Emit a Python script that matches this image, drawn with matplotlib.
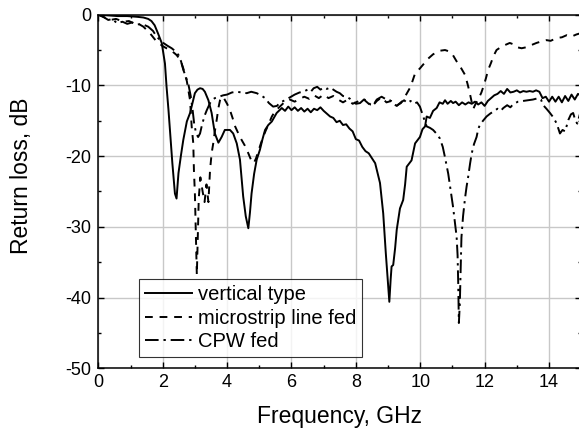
import matplotlib
matplotlib.use("Agg")
import matplotlib.pyplot as plt
from matplotlib.ticker import MultipleLocator

plt.rcParams['font.family'] = ['Liberation Sans', 'DejaVu Sans']
plt.rcParams['axes.unicode_minus'] = False

# ---- data: vertical type (solid) ----
vert_f = [0, 0.3, 0.6, 0.9, 1.2, 1.4, 1.55, 1.65, 1.75, 1.85, 1.97, 2.07, 2.12, 2.18, 2.23, 2.3, 2.38, 2.43,
          2.49, 2.57, 2.64, 2.75, 2.85, 2.93, 3.0, 3.08, 3.16, 3.24, 3.31, 3.42, 3.52, 3.62, 3.73, 3.83,
          3.93, 4.09, 4.19, 4.3, 4.4, 4.5, 4.58, 4.66, 4.71, 4.76, 4.84, 4.92, 5.02, 5.1, 5.18, 5.28,
          5.39, 5.54, 5.7, 5.8, 5.9, 6.0, 6.1, 6.2, 6.3, 6.4, 6.5, 6.6, 6.7, 6.8, 6.9, 7.0, 7.1, 7.2,
          7.3, 7.4, 7.5, 7.6, 7.7, 7.8, 7.9, 8.0, 8.1, 8.2, 8.3, 8.4, 8.5, 8.6, 8.7, 8.75, 8.85, 8.93,
          9.0, 9.04, 9.08, 9.11, 9.16, 9.22, 9.27, 9.37, 9.47, 9.53, 9.58, 9.73, 9.84, 9.99, 10.07,
          10.15, 10.2, 10.3, 10.4, 10.51, 10.6, 10.7, 10.77, 10.85, 10.95, 11.02, 11.1, 11.2, 11.3,
          11.4, 11.5, 11.6, 11.7, 11.8, 11.9, 12.0, 12.1, 12.2, 12.3, 12.4, 12.5, 12.6, 12.7, 12.8,
          12.9, 13.0, 13.1, 13.2, 13.3, 13.4, 13.5, 13.6, 13.7, 13.8, 13.9, 14.0, 14.1, 14.2, 14.3,
          14.4, 14.5, 14.6, 14.7, 14.8, 14.9, 15.0]
vert_db = [0, -0.1, -0.2, -0.2, -0.3, -0.4, -0.6, -0.9, -1.5, -2.6, -4.0, -6.9, -10.2, -13.5, -16.7,
           -21.0, -25.3, -26.0, -22.4, -19.8, -17.7, -15.1, -13.9, -12.4, -11.1, -10.6, -10.4, -10.5,
           -10.9, -12.1, -13.9, -16.8, -18.1, -17.3, -16.3, -16.3, -16.8, -18.2, -20.5, -25.7, -28.5,
           -30.2, -28.0, -25.3, -22.5, -20.5, -19.1, -17.6, -16.3, -15.6, -15.1, -13.9, -13.2, -13.6,
           -13.0, -13.5, -13.1, -13.6, -13.2, -13.7, -13.3, -13.8, -13.3, -13.5, -13.1, -13.6, -14.0,
           -14.4, -14.6, -15.2, -15.0, -15.6, -15.5, -16.1, -16.5, -17.6, -17.8, -18.7, -19.3, -19.6,
           -20.3, -21.0, -22.9, -23.8, -28.1, -33.7, -38.0, -40.6, -37.5, -35.6, -35.4, -33.0, -30.4,
           -27.4, -26.2, -24.0, -21.5, -20.6, -18.2, -17.3, -16.2, -15.8, -14.4, -14.6, -13.6, -13.2,
           -12.4, -12.6, -12.1, -12.6, -12.2, -12.5, -12.3, -12.8, -12.4, -12.7, -12.4, -12.6, -12.3,
           -12.7, -12.4, -12.9, -12.2, -11.8, -11.4, -11.2, -10.8, -11.2, -10.5, -11.0, -10.9, -10.7,
           -11.0, -10.8, -10.9, -10.8, -10.9, -10.7, -10.9, -11.8, -11.6, -12.3, -11.6, -12.3, -11.6,
           -12.4, -11.5, -12.2, -11.3, -12.0, -11.2, -11.5]

# ---- data: microstrip line fed (dashed) ----
ms_f = [0, 0.2, 0.37, 0.55, 0.78, 0.95, 1.09, 1.25, 1.4, 1.6, 1.81, 2.02, 2.12, 2.25, 2.43, 2.55, 2.64,
        2.75, 2.85, 2.9, 2.95, 2.97, 3.0, 3.03, 3.06, 3.12, 3.17, 3.24, 3.3, 3.36, 3.42, 3.47, 3.52,
        3.57, 3.62, 3.68, 3.73, 3.78, 3.83, 3.9, 4.0, 4.09, 4.17, 4.25, 4.35, 4.45, 4.55, 4.66, 4.75,
        4.83, 4.9, 4.97, 5.05, 5.12, 5.2, 5.28, 5.39, 5.5, 5.64, 5.8, 5.95, 6.1, 6.25, 6.4, 6.55, 6.7,
        6.85, 7.0, 7.15, 7.3, 7.45, 7.6, 7.75, 7.9, 8.05, 8.2, 8.35, 8.5, 8.65, 8.8, 8.95, 9.1, 9.25,
        9.4, 9.5, 9.6, 9.7, 9.84, 9.99, 10.1, 10.25, 10.4, 10.61, 10.77, 10.9, 11.0, 11.13, 11.25,
        11.39, 11.47, 11.54, 11.6, 11.65, 11.72, 11.8, 11.9, 11.96, 12.04, 12.11, 12.2, 12.27, 12.37,
        12.5, 12.63, 12.78, 12.9, 13.0, 13.15, 13.3, 13.45, 13.61, 13.75, 13.92, 14.05, 14.24, 14.4,
        14.55, 14.7, 14.85, 15.0]
ms_db = [0, -0.4, -0.75, -0.6, -1.0, -0.9, -1.2, -1.3, -1.7, -2.6, -3.8, -4.5, -4.75, -5.0, -5.7, -6.4,
         -7.6, -9.4, -12.1, -15.8, -18.2, -22.0, -25.3, -31.0, -36.8, -26.0, -23.0, -25.0, -26.5,
         -24.0, -26.5, -22.0, -19.6, -18.2, -16.5, -14.8, -13.2, -12.1, -11.6, -11.8, -12.6, -13.5,
         -14.6, -15.8, -16.8, -17.7, -18.5, -19.6, -20.6, -21.0, -20.3, -19.3, -18.2, -17.3, -16.4,
         -15.6, -14.4, -13.6, -13.0, -12.3, -12.0, -12.3, -11.9, -11.6, -11.9, -11.4, -11.8, -11.3,
         -11.8, -11.5, -12.0, -12.4, -12.0, -12.6, -12.3, -11.8, -12.4, -13.0, -12.2, -11.7, -12.4,
         -12.2, -12.9, -12.5, -11.8, -11.0, -10.2, -8.3, -7.6, -7.0, -6.2, -5.6, -5.1, -5.0, -5.2,
         -5.6, -6.6, -7.4, -8.5, -9.8, -11.1, -12.4, -13.3, -12.6, -12.0, -11.0, -10.2, -9.0, -7.8,
         -6.8, -5.9, -5.0, -4.6, -4.3, -4.0, -4.2, -4.6, -4.75, -4.6, -4.3, -4.0, -3.8, -3.6, -3.7,
         -3.3, -3.2, -2.9, -3.1, -2.8, -2.6]

# ---- data: CPW fed (dash-dot) ----
cpw_f = [0, 0.15, 0.31, 0.45, 0.57, 0.75, 0.9, 1.05, 1.2, 1.35, 1.55, 1.7, 1.81, 1.9, 2.02, 2.15, 2.28,
         2.4, 2.49, 2.57, 2.64, 2.72, 2.8, 2.87, 2.93, 2.98, 3.04, 3.1, 3.16, 3.22, 3.3, 3.37, 3.47,
         3.55, 3.62, 3.75, 3.88, 4.0, 4.15, 4.3, 4.45, 4.61, 4.75, 4.92, 5.05, 5.18, 5.3, 5.43, 5.55,
         5.65, 5.8, 5.95, 6.1, 6.25, 6.37, 6.5, 6.6, 6.69, 6.8, 6.9, 7.0, 7.1, 7.2, 7.3, 7.4, 7.5,
         7.6, 7.71, 7.82, 7.92, 8.0, 8.13, 8.25, 8.33, 8.45, 8.54, 8.65, 8.8, 8.95, 9.06, 9.16, 9.27,
         9.4, 9.5, 9.6, 9.7, 9.8, 9.9, 9.99, 10.1, 10.2, 10.3, 10.4, 10.5, 10.61, 10.7, 10.77, 10.87,
         10.95, 11.02, 11.08, 11.13, 11.16, 11.18, 11.2, 11.23, 11.26, 11.28, 11.33, 11.39, 11.44,
         11.49, 11.55, 11.6, 11.67, 11.75, 11.8, 11.85, 11.95, 12.06, 12.17, 12.27, 12.4, 12.5,
         12.58, 12.7, 12.8, 12.9, 13.04, 13.2, 13.35, 13.5, 13.67, 13.75, 13.82, 13.92, 14.03, 14.13,
         14.24, 14.34, 14.42, 14.5, 14.6, 14.68, 14.75, 14.82, 14.88, 14.95, 15.0]
cpw_db = [0, -0.3, -0.75, -0.6, -1.2, -1.0, -1.3, -1.1, -1.4, -1.3, -1.7, -2.3, -3.1, -3.5, -4.0, -4.4,
          -4.75, -5.2, -5.7, -6.6, -7.8, -8.8, -9.9, -11.5, -13.5, -15.5, -16.8, -17.3, -16.8, -15.6,
          -14.3, -13.5, -12.5, -12.0, -11.8, -11.6, -11.4, -11.3, -11.0, -10.9, -11.0, -11.1, -10.9,
          -11.1, -11.4, -11.8, -12.5, -13.0, -12.9, -12.4, -12.1, -11.7, -11.3, -11.0, -10.9, -10.6,
          -10.9, -10.4, -10.2, -10.6, -10.3, -10.5, -10.3, -10.6, -10.9, -11.1, -11.5, -11.6, -11.9,
          -12.3, -12.6, -12.5, -12.0, -12.1, -12.7, -12.8, -12.0, -11.6, -12.0, -12.1, -12.6, -12.9,
          -12.4, -12.1, -12.5, -12.2, -12.6, -12.4, -13.0, -14.5, -15.8, -16.0, -16.3, -16.8, -17.5,
          -18.7, -20.2, -22.5, -25.0, -27.2, -29.5, -31.4, -34.0, -38.0, -43.6, -40.8, -35.0, -31.5,
          -28.5, -26.0, -24.3, -22.9, -21.0, -19.6, -18.3, -17.3, -16.2, -15.6, -15.0, -14.4, -14.0,
          -13.7, -13.3, -13.6, -13.2, -12.8, -13.1, -12.6, -12.3, -12.2, -12.1, -12.0, -11.8, -12.0,
          -12.8, -13.3, -13.9, -14.5, -15.4, -16.8, -16.3, -16.5, -14.9, -14.1, -13.9, -15.0, -15.4,
          -14.2, -13.5]

labels = ["vertical type", "microstrip line fed", "CPW fed"]
x_ticks = [0, 2, 4, 6, 8, 10, 12, 14]
y_ticks = [0, -10, -20, -30, -40, -50]

fig = plt.figure(figsize=(5.79, 4.34), dpi=100)
ax = fig.add_axes([0.1698, 0.1514, 0.834, 0.8148])

ax.plot(vert_f, vert_db, color='black', lw=1.4, ls='-', label=labels[0])
ax.plot(ms_f, ms_db, color='black', lw=1.4, ls=(0, (4, 3.5)), label=labels[1])
ax.plot(cpw_f, cpw_db, color='black', lw=1.4, ls=(0, (7, 2.5, 1.2, 2.5)), label=labels[2])

ax.set_xlim(0, 15)
ax.set_ylim(-50, 0)
ax.set_xticks(x_ticks)
ax.set_yticks(y_ticks)
ax.set_yticklabels([str(v) for v in y_ticks])
ax.xaxis.set_minor_locator(MultipleLocator(1))
ax.yaxis.set_minor_locator(MultipleLocator(5))
ax.grid(True, which='major', color='#c8c8c8', lw=1.0)
ax.set_axisbelow(True)
ax.tick_params(which='both', direction='in', top=True, right=True, labelsize=13, width=1.0)
ax.tick_params(which='major', length=4)
ax.tick_params(which='minor', length=2.5)
ax.tick_params(axis='x', pad=4)
ax.tick_params(axis='y', pad=5)
for s in ax.spines.values():
    s.set_linewidth(1.1)

ax.set_xlabel("Frequency, GHz", fontsize=16.5, labelpad=10)
ax.set_ylabel("Return loss, dB", fontsize=16.5)
ax.yaxis.set_label_coords(-0.135, 0.545)

leg = ax.legend(loc='lower left', bbox_to_anchor=(0.085, 0.031), borderaxespad=0, fontsize=14.5,
                frameon=True, fancybox=False, shadow=False, handlelength=2.3, handletextpad=0.3,
                labelspacing=0.22, borderpad=0.3)
leg.get_frame().set_edgecolor('black')
leg.get_frame().set_linewidth(0.8)

fig.savefig("out.png", dpi=100)
